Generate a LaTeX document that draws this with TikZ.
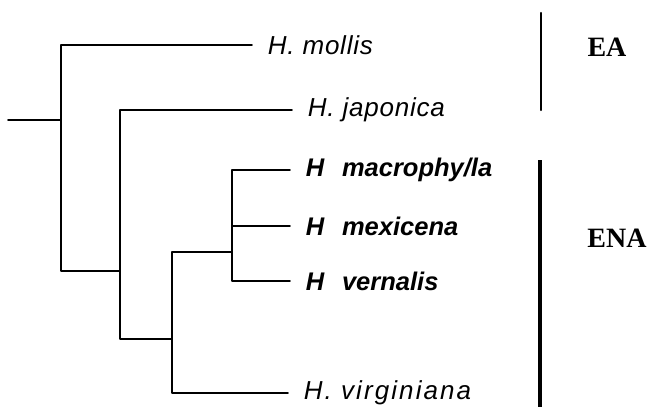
\documentclass[tikz,border=0pt]{standalone}
\usepackage{fontspec}
\newfontfamily\taxfont[LetterSpace=3]{Liberation Sans}
\newfontfamily\taxfontw[LetterSpace=8]{Liberation Sans}
\newfontfamily\taxfontb{Liberation Sans}
\newfontfamily\regfont{Liberation Serif}
\tikzset{
	taxon/.style={anchor=west, inner xsep=15pt, inner ysep=2pt, font=\taxfont\itshape\fontsize{26}{30}\selectfont},
	taxonw/.style={taxon, font=\taxfontw\itshape\fontsize{26}{30}\selectfont},
	taxonb/.style={taxon, font=\taxfontb\bfseries\itshape\fontsize{25.5}{30}\selectfont},
	region/.style={font=\regfont\bfseries\fontsize{28}{32}\selectfont}
}
\begin{document}
\begin{tikzpicture}[x=1pt, y=-1pt, line join=round, line cap=round, line width=1.6pt]
			\useasboundingbox (0,0) rectangle (655,407);
			\def\gap{\hspace{0.7em}}
			% inner nodes of the tree
			\coordinate (base) at (8,120);
			\coordinate (n1) at (61,120);
			\coordinate (n2) at (120,271);
			\coordinate (n3) at (172,339);
			\coordinate (n4) at (232,252);
			% taxa
			\node[taxon] (mollis) at (252,45) {H. mollis};
			\node[taxon] (japonica) at (292,110) {H. japonica};
			\node[taxonb] (macrophylla) at (290,170) {H\gap macrophy/la};
			\node[taxonb] (mexicena) at (290,226) {H\gap mexicena};
			\node[taxonb] (vernalis) at (290,281) {H\gap vernalis};
			\node[taxonw] (virginiana) at (288,393) {H. virginiana};
			% branches
			\draw (base) -- (n1);
			\draw (n1) |- (mollis.west);
			\draw (n1) |- (n2);
			\draw (n2) |- (japonica.west);
			\draw (n2) |- (n3);
			\draw (n3) |- (n4);
			\draw (n3) |- (virginiana.west);
			\draw (n4) |- (macrophylla.west);
			\draw (n4) |- (mexicena.west);
			\draw (n4) |- (vernalis.west);
			% regions
			\coordinate (eatop) at (541,13);
			\coordinate (eabot) at (541,110);
			\coordinate (enatop) at (540,160);
			\coordinate (enabot) at (540,407);
			\draw[line width=2.4pt] (eatop) -- (eabot);
			\draw[line width=4pt, line cap=butt] (enatop) -- (enabot);
			\node[region] (ea) at (607,47) {EA};
			\node[region] (ena) at (617,238) {ENA};
		\end{tikzpicture}
\end{document}
